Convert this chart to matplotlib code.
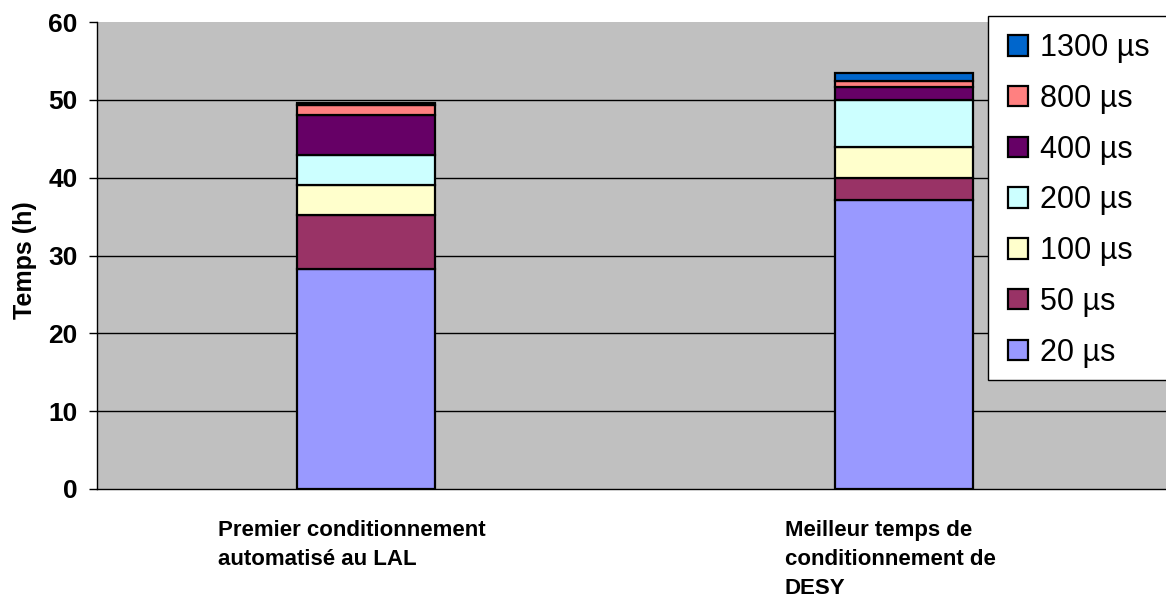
import matplotlib
matplotlib.use("Agg")
import matplotlib.pyplot as plt
from matplotlib.patches import Rectangle
from matplotlib.transforms import ScaledTranslation
import numpy as np

categories = ["Premier conditionnement\nautomatisé au LAL",
              "Meilleur temps de\nconditionnement de\nDESY"]
series_names = ["20 µs", "50 µs", "100 µs", "200 µs", "400 µs", "800 µs", "1300 µs"]
v20 = [28.3, 37.1]
v50 = [6.9, 2.9]
v100 = [3.8, 4.0]
v200 = [3.9, 6.0]
v400 = [5.2, 1.6]
v800 = [1.3, 0.8]
v1300 = [0.2, 1.1]
colors = ["#9999FF", "#993366", "#FFFFCC", "#CCFFFF", "#660066", "#FF8080", "#0066CC"]
yticks = [0, 10, 20, 30, 40, 50, 60]

plt.rcParams['font.family'] = ['Liberation Sans', 'DejaVu Sans']

W, H = 1166, 606
fig = plt.figure(figsize=(W/100, H/100), dpi=100)
ax = fig.add_axes([97/W, 1-489/H, 1076/W, (489-22)/H])
ax.set_facecolor("#C0C0C0")

x = np.arange(len(categories))
bottom = np.zeros(len(categories))
handles = []
for name, vals, c in zip(series_names, [v20, v50, v100, v200, v400, v800, v1300], colors):
    b = ax.bar(x, vals, 0.257, bottom=bottom, color=c, edgecolor="black",
               linewidth=1.6, label=name, zorder=3)
    handles.append(b)
    bottom += np.array(vals)

ax.set_xlim(-0.5, 1.5)
ax.set_ylim(0, 60)
ax.set_yticks(yticks)
ax.set_yticklabels([str(t) for t in yticks], fontsize=19, fontweight='bold')
for t in yticks[1:-1]:
    ax.axhline(t, color="black", linewidth=1.0, zorder=1)

ax.set_xticks(x)
ax.set_xticklabels(categories, fontsize=16, fontweight='bold', ha='center',
                   multialignment='left', va='top', linespacing=1.5)
ax.tick_params(axis='x', length=0, pad=22)
ax.tick_params(axis='y', direction='out', length=6, width=1, pad=8)
shift = ScaledTranslation(-14/100, 0, fig.dpi_scale_trans)
for lab in ax.get_xticklabels():
    lab.set_transform(lab.get_transform() + shift)

for s in ['top', 'right']:
    ax.spines[s].set_visible(False)
ax.spines['left'].set_color('black')
ax.spines['bottom'].set_color('black')
ax.spines['left'].set_linewidth(1.0)
ax.spines['bottom'].set_linewidth(1.0)

fig.text(25/W, 1-260/H, "Temps (h)", rotation=90, ha='center', va='center',
         fontsize=18, fontweight='bold')

# legend frame extends past the right edge as in the reference
fig.patches.append(Rectangle((988/W, 1-380/H), (1180-988)/W, (380-16)/H,
                             transform=fig.transFigure, facecolor='white',
                             edgecolor='black', linewidth=1.0, zorder=4))
leg = fig.legend(handles[::-1], series_names[::-1], loc='upper left',
                 bbox_to_anchor=(1008/W, 1-33/H), fontsize=22,
                 frameon=False,
                 handlelength=0.655, handleheight=0.655, handletextpad=0.39,
                 labelspacing=0.68, borderpad=0, borderaxespad=0)
leg.set_zorder(5)

fig.savefig("out.png", dpi=100)
